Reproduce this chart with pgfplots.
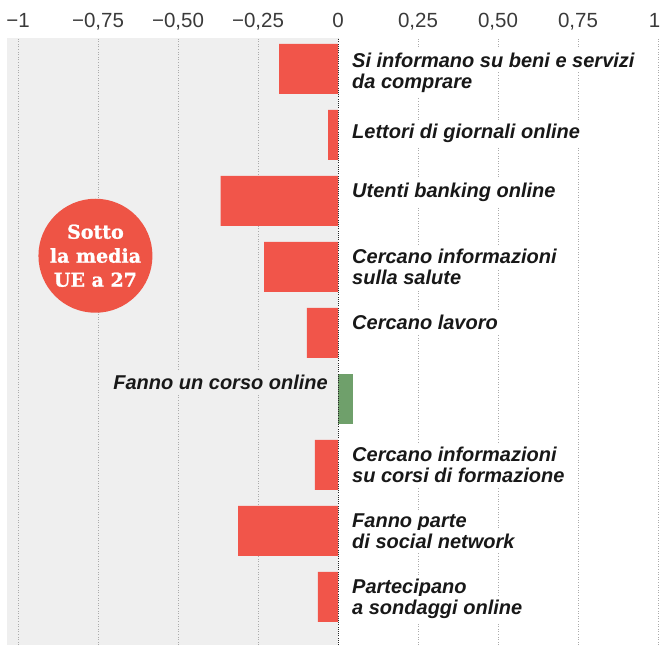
\documentclass[border=0pt]{standalone}
\usepackage{pgfplots}
\pgfplotsset{compat=1.18}
\usepackage{fontspec}
\setmainfont{Liberation Sans}
\newfontfamily\slabfont[FakeBold=1.2]{DejaVu Serif Bold}
\definecolor{barred}{HTML}{F1554A}
\definecolor{circred}{HTML}{EE5445}
\definecolor{bargreen}{HTML}{6FA06B}
\definecolor{bggray}{HTML}{EFEFEF}
\definecolor{gridgray}{HTML}{ABABAB}
\definecolor{labtext}{HTML}{181818}
\definecolor{ticktext}{HTML}{3A3A3A}
\tikzset{
  lab/.style={anchor=base west, fill=white, inner xsep=2pt, inner ysep=4pt,
     xshift=12pt, text=labtext,
     font=\fontsize{20}{21}\selectfont\bfseries\itshape},
  grd/.style={draw=gridgray, line width=0.8pt, dash pattern=on 0.8pt off 1.8pt},
}
\begin{document}
\begin{tikzpicture}
\begin{axis}[
  x=320pt, y=66pt,
  xmin=-1.034, xmax=1.0125, ymin=-0.73, ymax=8.47,
  clip=false,
  axis line style={draw=none},
  major tick length=0pt,
  ytick=\empty,
  xtick={-1,-0.75,-0.5,-0.25,0,0.25,0.5,0.75,1},
  xticklabels={{−1},{−0,75},{−0,50},{−0,25},{0},{0,25},{0,50},{0,75},{1\kern7pt}},
  xticklabel pos=upper,
  xticklabel style={anchor=base, yshift=10pt, inner sep=0pt,
     font=\fontsize{20.5}{20.5}\selectfont, text=ticktext},
  xbar, bar width=50pt, bar shift=0pt,
]
% image frame
\coordinate (imgTL) at (axis cs:-1.05625,9.045);
\coordinate (imgBR) at (axis cs:1.0125,-0.742);
% gray left background
\fill[bggray] (axis cs:-1.034,-0.73) rectangle (axis cs:0,8.47);
% grid lines
\draw[grd] (axis cs:-1,-0.73) -- (axis cs:-1,8.47);
\draw[grd] (axis cs:-0.75,-0.73) -- (axis cs:-0.75,8.47);
\draw[grd] (axis cs:-0.5,-0.73) -- (axis cs:-0.5,8.47);
\draw[grd] (axis cs:-0.25,-0.73) -- (axis cs:-0.25,8.47);
\draw[grd] (axis cs:0.25,-0.73) -- (axis cs:0.25,8.47);
\draw[grd] (axis cs:0.5,-0.73) -- (axis cs:0.5,8.47);
\draw[grd] (axis cs:0.75,-0.73) -- (axis cs:0.75,8.47);
\draw[grd] (axis cs:1,-0.73) -- (axis cs:1,8.47);
% bars
\addplot[fill=barred, draw=none] coordinates {
  (-0.184,8) (-0.031,7) (-0.367,6) (-0.231,5) (-0.097,4)
  (-0.072,2) (-0.312,1) (-0.063,0)
};
\addplot[fill=bargreen, draw=none] coordinates {(0.046,3)};
% zero line
\draw[draw=black!85, line width=0.9pt, dash pattern=on 0.9pt off 1.3pt]
  (axis cs:0,-0.73) -- (axis cs:0,8.47);
% circle
\fill[circred] (axis cs:-0.758,5.17) circle[radius=57pt];
\node[align=center, text=white, inner sep=0pt,
  font=\slabfont\fontsize{19}{24}\selectfont]
  at (axis cs:-0.758,5.17) {Sotto\\la media\\UE a 27};
% labels
\node[lab, yshift=1pt] at (axis cs:0,8) {Si informano su beni e servizi};
\node[lab, yshift=-20pt] at (axis cs:0,8) {da comprare};
\node[lab, yshift=-4pt] at (axis cs:0,7) {Lettori di giornali online};
\node[lab, yshift=3pt] at (axis cs:0,6) {Utenti banking online};
\node[lab, yshift=3pt] at (axis cs:0,5) {Cercano informazioni};
\node[lab, yshift=-18pt] at (axis cs:0,5) {sulla salute};
\node[lab, yshift=3pt] at (axis cs:0,4) {Cercano lavoro};
\node[lab, fill=bggray, anchor=base east, xshift=-20pt, yshift=9pt] at (axis cs:0,3) {Fanno un corso online};
\node[lab, yshift=3pt] at (axis cs:0,2) {Cercano informazioni};
\node[lab, yshift=-18pt] at (axis cs:0,2) {su corsi di formazione};
\node[lab, yshift=3pt] at (axis cs:0,1) {Fanno parte};
\node[lab, yshift=-18pt] at (axis cs:0,1) {di social network};
\node[lab, yshift=3pt] at (axis cs:0,0) {Partecipano};
\node[lab, yshift=-18pt] at (axis cs:0,0) {a sondaggi online};
\end{axis}
\pgfresetboundingbox
\path[use as bounding box] (imgTL) rectangle (imgBR);
\end{tikzpicture}
\end{document}
